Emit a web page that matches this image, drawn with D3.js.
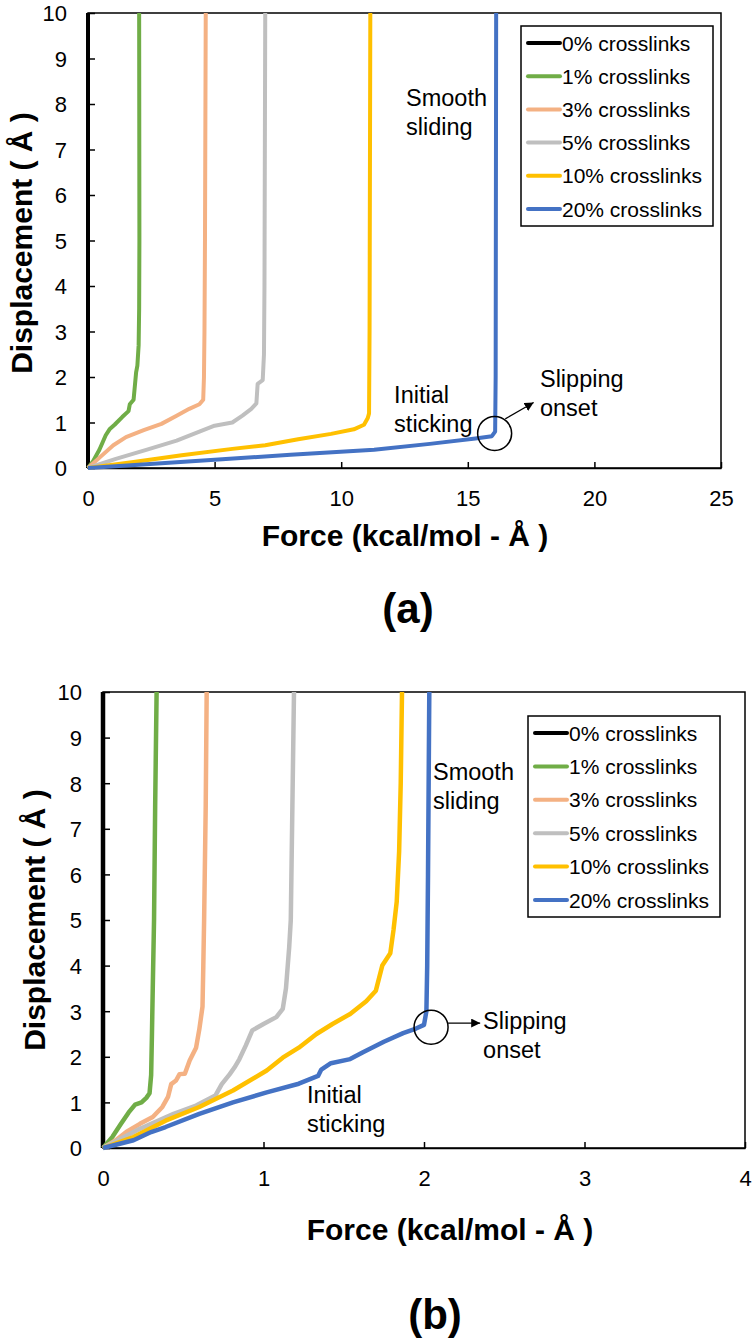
<!DOCTYPE html>
<html>
<head>
<meta charset="utf-8">
<script src="https://cdn.jsdelivr.net/npm/d3@7"></script>
<style>
  body { margin: 0; background: #fff; }
  text { font-family: "Liberation Sans", Arial, sans-serif; fill: #000; }
</style>
</head>
<body>
<svg id="chart" width="754" height="1343"></svg>
<script>
// ---- data: [force, displacement] ----
var seriesNames = ["0% crosslinks", "1% crosslinks", "3% crosslinks",
                   "5% crosslinks", "10% crosslinks", "20% crosslinks"];

var xTicksA = [0, 5, 10, 15, 20, 25];
var xTicksB = [0, 1, 2, 3, 4];
var yTicks = [0, 1, 2, 3, 4, 5, 6, 7, 8, 9, 10];

// panel (a)
var a0 = [[0, 0], [0, 10]];
var a1 = [[0, 0], [0.2, 0.15], [0.45, 0.4], [0.7, 0.72], [0.85, 0.85], [1.05, 0.95],
          [1.35, 1.12], [1.6, 1.25], [1.65, 1.4], [1.8, 1.5], [1.85, 1.8], [1.9, 2.1],
          [1.95, 2.25], [2.0, 2.7], [2.02, 3.5], [2.03, 5], [2.02, 10]];
var a3 = [[0, 0], [0.5, 0.25], [1.0, 0.5], [1.5, 0.68], [2.2, 0.83], [2.9, 0.97],
          [3.5, 1.15], [4.0, 1.3], [4.4, 1.4], [4.55, 1.5], [4.58, 2.0], [4.6, 3],
          [4.62, 5], [4.65, 10]];
var a5 = [[0, 0], [1.1, 0.2], [2.3, 0.4], [3.5, 0.6], [4.4, 0.8], [5.0, 0.93],
          [5.7, 1.0], [6.1, 1.15], [6.45, 1.3], [6.65, 1.42], [6.7, 1.85], [6.9, 1.93],
          [6.95, 2.5], [6.97, 4], [7.0, 10]];
var a10 = [[0, 0], [1.8, 0.13], [3.7, 0.28], [5.7, 0.42], [7, 0.5], [8.3, 0.63],
           [9.6, 0.75], [10.5, 0.85], [10.9, 0.95], [11.05, 1.1], [11.1, 1.2],
           [11.12, 3], [11.15, 10]];
var a20 = [[0, 0], [2, 0.07], [5, 0.18], [8, 0.29], [11.3, 0.4], [13.5, 0.53],
           [15.3, 0.65], [15.95, 0.7], [16.08, 0.8], [16.1, 2], [16.12, 10]];

// panel (b)
var b0 = [[0, 0], [0, 10]];
var b1 = [[0, 0], [0.06, 0.25], [0.11, 0.52], [0.16, 0.78], [0.2, 0.95], [0.24, 1.0],
          [0.27, 1.1], [0.29, 1.2], [0.3, 1.6], [0.305, 2.5], [0.31, 3.5], [0.318, 5],
          [0.325, 7.5], [0.334, 10]];
var b3 = [[0, 0], [0.08, 0.17], [0.145, 0.35], [0.23, 0.53], [0.31, 0.68], [0.37, 0.9],
          [0.405, 1.12], [0.425, 1.4], [0.455, 1.48], [0.477, 1.62], [0.51, 1.63],
          [0.54, 1.92], [0.58, 2.2], [0.6, 2.6], [0.62, 3.1], [0.625, 4], [0.63, 5],
          [0.64, 7.5], [0.646, 10]];
var b5 = [[0, 0], [0.23, 0.42], [0.44, 0.75], [0.58, 0.93], [0.7, 1.15], [0.74, 1.4],
          [0.79, 1.62], [0.82, 1.77], [0.85, 1.95], [0.89, 2.25], [0.93, 2.58],
          [1.0, 2.72], [1.08, 2.87], [1.12, 3.05], [1.14, 3.5], [1.16, 4.4], [1.17, 5],
          [1.18, 7.5], [1.19, 10]];
var b10 = [[0, 0], [0.19, 0.24], [0.39, 0.6], [0.6, 0.9], [0.81, 1.26], [1.02, 1.7],
           [1.12, 1.98], [1.22, 2.2], [1.33, 2.5], [1.43, 2.72], [1.54, 2.94],
           [1.64, 3.22], [1.7, 3.45], [1.74, 4.0], [1.79, 4.27], [1.81, 4.78],
           [1.83, 5.4], [1.845, 6.5], [1.855, 8], [1.863, 10]];
var b20 = [[0, 0], [0.19, 0.17], [0.3, 0.35], [0.39, 0.46], [0.6, 0.75], [0.81, 1.0],
           [1.02, 1.22], [1.22, 1.41], [1.34, 1.58], [1.36, 1.72], [1.42, 1.86],
           [1.54, 1.95], [1.62, 2.1], [1.75, 2.33], [1.87, 2.52], [1.95, 2.62],
           [2.0, 2.7], [2.015, 3.0], [2.02, 4], [2.025, 6], [2.033, 10]];

// ---- styles / layout ----
var Colors = ["#000000", "#70AD47", "#F4B183", "#BFBFBF", "#FFC000", "#4472C4"];
var Font = { tick: 22, legend: 21, note: 23.5, title: 30, label: 42 };

var Panels = [
  { name: "(a)", curves: [a0, a1, a3, a5, a10, a20], xMax: 25, xTicks: xTicksA,
    box: { l: 88, t: 13, r: 721, b: 468 }, lw: 4,
    legend: { x: 521, y: 26, w: 192, h: 200 },
    xTitle: { x: 405, y: 546 }, yTitle: { x: 32, y: 243 }, label: { x: 408, y: 623 },
    notes: { smooth: [12.56, 7.96], initial: [12.09, 1.43], slip: [17.85, 1.78],
             circle: [16.06, 0.76], arrow: [[16.48, 1.08], [17.6, 1.44]] } },
  { name: "(b)", curves: [b0, b1, b3, b5, b10, b20], xMax: 4, xTicks: xTicksB,
    box: { l: 103, t: 692, r: 745, b: 1148 }, lw: 4.5,
    legend: { x: 528, y: 716, w: 192, h: 201 },
    xTitle: { x: 450, y: 1240 }, yTitle: { x: 45, y: 920 }, label: { x: 435, y: 1329 },
    notes: { smooth: [2.056, 8.07], initial: [1.271, 0.99], slip: [2.368, 2.61],
             circle: [2.044, 2.65], arrow: [[2.15, 2.74], [2.35, 2.74]] } }
];

var svg = d3.select("#chart");

svg.append("defs").append("marker")
  .attr("id", "arrowhead")
  .attr("viewBox", "0 0 10 10")
  .attr("refX", 10).attr("refY", 5)
  .attr("markerWidth", 9).attr("markerHeight", 9)
  .attr("markerUnits", "userSpaceOnUse")
  .attr("orient", "auto")
  .append("path").attr("d", "M0,0L10,5L0,10Z").attr("fill", "#000");

Panels.forEach(function(p, pi) {
  var B = p.box;
  var x = d3.scaleLinear().domain([0, p.xMax]).range([B.l, B.r]);
  var y = d3.scaleLinear().domain([0, 10]).range([B.b, B.t]);
  var g = svg.append("g").attr("class", "panel panel-" + pi);

  g.append("clipPath").attr("id", "clip" + pi)
    .append("rect")
    .attr("x", B.l - 4).attr("y", B.t)
    .attr("width", B.r - B.l + 4).attr("height", B.b - B.t + 4);

  // frame
  g.append("rect")
    .attr("x", B.l).attr("y", B.t)
    .attr("width", B.r - B.l).attr("height", B.b - B.t)
    .attr("fill", "none").attr("stroke", "#000").attr("stroke-width", 1.5);

  // axes, ticks pointing inward
  var xa = g.append("g")
    .attr("transform", "translate(0," + B.b + ")")
    .call(d3.axisBottom(x).tickValues(p.xTicks).tickSizeInner(-6).tickSizeOuter(0)
          .tickPadding(22).tickFormat(d3.format("d")));
  var ya = g.append("g")
    .attr("transform", "translate(" + B.l + ",0)")
    .call(d3.axisLeft(y).tickValues(yTicks).tickSizeInner(-7).tickSizeOuter(0)
          .tickFormat(d3.format("d")));
  [xa, ya].forEach(function(a) {
    a.select(".domain").attr("stroke", "#000").attr("stroke-width", 1.5);
    a.selectAll(".tick line").attr("stroke", "#000").attr("stroke-width", 1.5);
    a.selectAll(".tick text").attr("font-size", Font.tick)
      .attr("font-family", "Liberation Sans, Arial, sans-serif").attr("fill", "#000");
  });
  ya.selectAll(".tick text")
    .attr("x", -21).attr("text-anchor", "end").attr("dy", "0.36em");

  // curves
  var line = d3.line()
    .x(function(d) { return x(d[0]); })
    .y(function(d) { return y(d[1]); });

  g.append("g").attr("clip-path", "url(#clip" + pi + ")")
    .selectAll("path.curve")
    .data(p.curves)
    .enter().append("path")
    .attr("class", "curve")
    .attr("d", line)
    .attr("fill", "none")
    .attr("stroke", function(d, i) { return Colors[i]; })
    .attr("stroke-width", p.lw)
    .attr("stroke-linejoin", "round");

  // legend
  var L = p.legend;
  var lg = g.append("g").attr("class", "legend");
  lg.append("rect")
    .attr("x", L.x).attr("y", L.y).attr("width", L.w).attr("height", L.h)
    .attr("fill", "#fff").attr("stroke", "#000").attr("stroke-width", 1.5);
  var rowH = (L.h - 34) / (seriesNames.length - 1);
  var row = lg.selectAll(".row").data(seriesNames).enter().append("g")
    .attr("class", "row")
    .attr("transform", function(d, i) {
      return "translate(" + (L.x + 7) + "," + (L.y + 17 + i * rowH) + ")"; });
  row.append("line")
    .attr("x1", 0).attr("x2", 32).attr("y1", 0).attr("y2", 0)
    .attr("stroke", function(d, i) { return Colors[i]; })
    .attr("stroke-width", 4).attr("stroke-linecap", "round");
  row.append("text")
    .attr("x", 34).attr("dy", "0.36em")
    .attr("font-size", Font.legend)
    .text(function(d) { return d; });

  // annotations
  var N = p.notes;
  function note(pos, lines) {
    var t = g.append("text").attr("font-size", Font.note)
      .attr("x", x(pos[0])).attr("y", y(pos[1]));
    lines.forEach(function(s, i) {
      t.append("tspan").attr("x", x(pos[0])).attr("dy", i ? 29 : 0).text(s);
    });
  }
  note(N.smooth, ["Smooth", "sliding"]);
  note(N.initial, ["Initial", "sticking"]);
  note(N.slip, ["Slipping", "onset"]);

  g.append("circle")
    .attr("cx", x(N.circle[0])).attr("cy", y(N.circle[1])).attr("r", 17)
    .attr("fill", "none").attr("stroke", "#000").attr("stroke-width", 1.5);
  g.append("line")
    .attr("x1", x(N.arrow[0][0])).attr("y1", y(N.arrow[0][1]))
    .attr("x2", x(N.arrow[1][0])).attr("y2", y(N.arrow[1][1]))
    .attr("stroke", "#000").attr("stroke-width", 1.2)
    .attr("marker-end", "url(#arrowhead)");

  // titles
  g.append("text")
    .attr("x", p.xTitle.x).attr("y", p.xTitle.y)
    .attr("text-anchor", "middle").attr("font-weight", "bold")
    .attr("font-size", Font.title)
    .text("Force (kcal/mol - Å )");
  g.append("text")
    .attr("transform", "translate(" + p.yTitle.x + "," + p.yTitle.y + ") rotate(-90)")
    .attr("text-anchor", "middle").attr("font-weight", "bold")
    .attr("font-size", Font.title)
    .text("Displacement ( Å )");
  g.append("text")
    .attr("x", p.label.x).attr("y", p.label.y)
    .attr("text-anchor", "middle").attr("font-weight", "bold")
    .attr("font-size", Font.label)
    .text(p.name);
});
</script>
</body>
</html>
